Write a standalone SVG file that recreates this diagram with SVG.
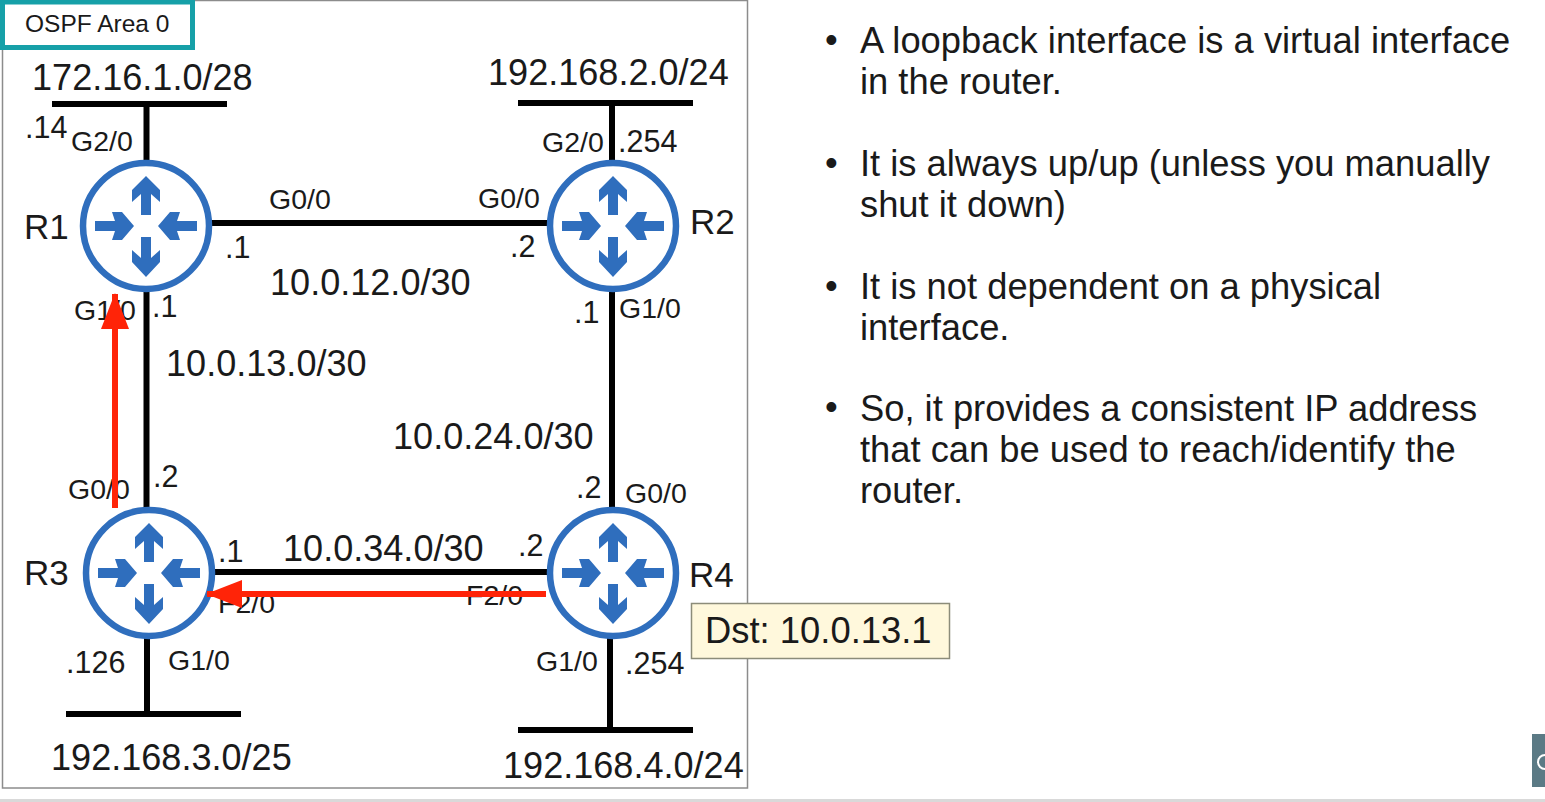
<svg xmlns="http://www.w3.org/2000/svg" xmlns:xlink="http://www.w3.org/1999/xlink" width="1545" height="802" viewBox="0 0 1545 802">
<style>
text{font-family:"Liberation Sans",Arial,sans-serif;fill:#1a1a1a}
.net{font-size:36.100px}
.ifc{font-size:28.500px}
.ip{font-size:30.500px}
.name{font-size:35px}
.body{font-size:36.350px}
.wire{stroke:#000;stroke-width:6;fill:none}
.flow{stroke:#ff2408;stroke-width:6;fill:none}
.ring{fill:#fff;stroke:#2f6ebd;stroke-width:6.500}
.glyph{fill:#2f6ebd}
</style>
<defs>
<g id="router">
<circle class="ring" r="63"/>
<g class="glyph">
<path d="M-5 -11V-32L-14 -24V-36L0 -50L14 -36V-24L5 -32V-11Z"/>
<path d="M-5 11V32L-14 24V36L0 51L14 36V24L5 32V11Z"/>
<path d="M-51 -5H-31L-34 -14H-24L-12 0L-24 14H-34L-31 5H-51Z"/>
<path d="M51 -5H31L34 -14H24L12 0L24 14H34L31 5H51Z"/>
</g>
</g>
<marker id="head" markerUnits="userSpaceOnUse" markerWidth="36" markerHeight="30" refX="35" refY="15" orient="auto"><path d="M0 1L36 15L0 29Z" fill="#ff2408"/></marker>
</defs>
<rect width="1545" height="802" fill="#fff"/>
<rect x="0" y="799" width="1545" height="3" fill="#d9d9d9"/>
<rect id="frame" x="2.500" y="0.500" width="745" height="787.500" fill="#fff" stroke="#8c8c8c" stroke-width="1.500"/>
<g id="connectors">
<path class="wire" d="M52 104H227M146.500 104V170M518 103H693M612 103V170M146 223H555M146.500 280V520M612 280V520M146 572H555M66 714H241M147 630V714M518 730H693M610 630V730"/>
</g>
<g id="area"><rect x="2.500" y="2" width="190" height="45.500" fill="#fff" stroke="#16a0a8" stroke-width="5"/><text x="25" y="32" font-size="24.500">OSPF Area 0</text></g>
<g id="R1"><use xlink:href="#router" x="146" y="226"/><text class="name" x="24" y="239">R1</text></g>
<g id="R2"><use xlink:href="#router" x="613" y="226"/><text class="name" x="690" y="234">R2</text></g>
<g id="R3"><use xlink:href="#router" x="149" y="573"/><text class="name" x="24" y="585">R3</text></g>
<g id="R4"><use xlink:href="#router" x="613" y="573"/><text class="name" x="689" y="587">R4</text></g>
<g id="labels">
<text class="net" x="32" y="90">172.16.1.0/28</text>
<text class="net" x="488" y="85">192.168.2.0/24</text>
<text class="net" x="270" y="295">10.0.12.0/30</text>
<text class="net" x="166" y="376">10.0.13.0/30</text>
<text class="net" x="393" y="449">10.0.24.0/30</text>
<text class="net" x="283" y="561">10.0.34.0/30</text>
<text class="net" x="51" y="770">192.168.3.0/25</text>
<text class="net" x="503" y="778">192.168.4.0/24</text>
<text class="ip" x="25" y="138">.14</text>
<text class="ifc" x="71" y="151">G2/0</text>
<text class="ifc" x="542" y="152">G2/0</text>
<text class="ip" x="618" y="152">.254</text>
<text class="ifc" x="269" y="209">G0/0</text>
<text class="ifc" x="478" y="208">G0/0</text>
<text class="ip" x="225" y="258">.1</text>
<text class="ip" x="510" y="257">.2</text>
<text class="ifc" x="74" y="320">G1/0</text>
<text class="ip" x="152" y="317">.1</text>
<text class="ip" x="574" y="323">.1</text>
<text class="ifc" x="619" y="318">G1/0</text>
<text class="ifc" x="68" y="499">G0/0</text>
<text class="ip" x="153" y="487">.2</text>
<text class="ip" x="576" y="498">.2</text>
<text class="ifc" x="625" y="503">G0/0</text>
<text class="ip" x="218" y="562">.1</text>
<text class="ip" x="518" y="556">.2</text>
<text class="ifc" x="218" y="613">F2/0</text>
<text class="ifc" x="466" y="605">F2/0</text>
<text class="ip" x="66" y="673">.126</text>
<text class="ifc" x="168" y="670">G1/0</text>
<text class="ifc" x="536" y="671">G1/0</text>
<text class="ip" x="625" y="674">.254</text>
</g>
<g id="flow">
<path class="flow" d="M115 508V294" marker-end="url(#head)"/>
<path class="flow" d="M546 594H207" marker-end="url(#head)"/>
</g>
<g id="packet"><rect x="691.500" y="603.500" width="258" height="55" fill="#fff8dc" stroke="#8c8c7a" stroke-width="1.500"/><text x="705" y="643" font-size="36.400">Dst: 10.0.13.1</text></g>
<g id="notes">
<text class="body" x="825" y="52">•</text>
<text class="body" x="860" y="53">A loopback interface is a virtual interface</text>
<text class="body" x="860" y="94">in the router.</text>
<text class="body" x="825" y="175">•</text>
<text class="body" x="860" y="176">It is always up/up (unless you manually</text>
<text class="body" x="860" y="217">shut it down)</text>
<text class="body" x="825" y="298">•</text>
<text class="body" x="860" y="299">It is not dependent on a physical</text>
<text class="body" x="860" y="340">interface.</text>
<text class="body" x="825" y="419">•</text>
<text class="body" x="860" y="421">So, it provides a consistent IP address</text>
<text class="body" x="860" y="462">that can be used to reach/identify the</text>
<text class="body" x="860" y="503">router.</text>
</g>
<g id="corner"><rect x="1532" y="734" width="13" height="53" fill="#5b7a85"/><circle cx="1545" cy="762" r="7" fill="none" stroke="#fff" stroke-width="2"/></g>
</svg>
